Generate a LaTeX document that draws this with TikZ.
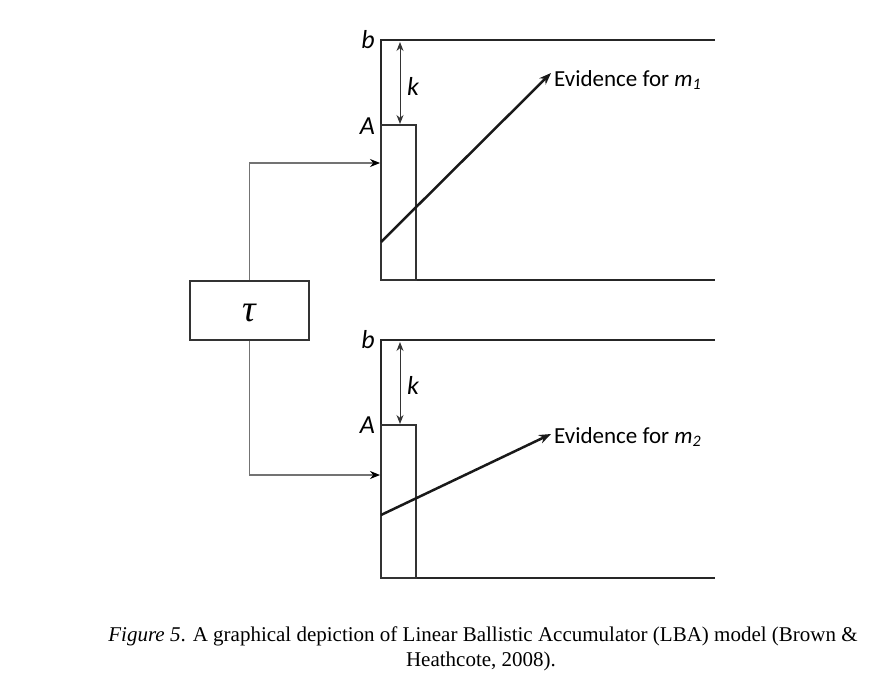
\documentclass[tikz,border=0pt]{standalone}
\usepackage{fontspec}
\setmainfont{Liberation Serif}
\newfontfamily\calib{Carlito}
\usetikzlibrary{arrows.meta}
\begin{document}
\begin{tikzpicture}[x=1pt,y=-1pt,
  axis/.style={line width=2.8pt,black!85},
  abox/.style={line width=1.6pt,black!80},
  karrow/.style={line width=1pt,black!80,{Stealth[length=9pt,width=7pt]}-{Stealth[length=9pt,width=7pt]}},
  evid/.style={line width=2.5pt,black!90,-{Stealth[length=12pt,width=9pt]}},
  inarrow/.style={line width=1.1pt,black!55,-{Stealth[length=10pt,width=8pt,black]}},
  taubox/.style={draw,line width=1.6pt,black!80,minimum width=119pt,minimum height=59pt,inner sep=0pt},
  taulab/.style={font=\fontsize{38}{38}\selectfont\itshape,inner sep=0pt},
  lab/.style={font=\calib\itshape\fontsize{26}{26}\selectfont,inner sep=0pt},
  evlab/.style={font=\calib\fontsize{23}{23}\selectfont,anchor=west,inner sep=0pt},
  captext/.style={font=\fontsize{21}{22}\selectfont,inner sep=0pt}
]
\useasboundingbox (0,0) rectangle (885,690);

% tau box
\node[taubox] (tau) at (249.5,310.5) {};
\node[taulab] (tautext) at (249.5,313) {τ};

% ---- top accumulator
\coordinate (t1b) at (381,40);
\coordinate (t1be) at (715,40);
\coordinate (t1o) at (381,280);
\coordinate (t1oe) at (715,280);
\draw[axis] (t1be) -- (t1b) -- (t1o) -- (t1oe);
\draw[abox] (381,125) rectangle (416,280);
\coordinate (k1a) at (400,42);
\coordinate (k1b) at (400,124);
\draw[karrow] (k1a) -- (k1b);
\node[lab] (k1) at (413,86) {k};
\node[lab,anchor=east] (A1) at (375,126) {A};
\node[lab,anchor=east] (b1) at (375,40) {b};
\coordinate (s1) at (381,242);
\coordinate (s1e) at (551,73);
\draw[evid] (s1) -- (s1e);
\node[evlab] (ev1) at (554,80) {Evidence for \textit{m}\raisebox{-0.3ex}{\fontsize{16}{16}\selectfont\textit{1}}};
\coordinate (in1) at (380,163);
\draw[inarrow] (tau.north) |- (in1);

% ---- bottom accumulator
\coordinate (t2b) at (381,340);
\coordinate (t2be) at (715,340);
\coordinate (t2o) at (381,578);
\coordinate (t2oe) at (715,578);
\draw[axis] (t2be) -- (t2b) -- (t2o) -- (t2oe);
\draw[abox] (381,425) rectangle (416,578);
\coordinate (k2a) at (400,342);
\coordinate (k2b) at (400,424);
\draw[karrow] (k2a) -- (k2b);
\node[lab] (k2) at (413,385) {k};
\node[lab,anchor=east] (A2) at (375,425) {A};
\node[lab,anchor=east] (b2) at (375,340) {b};
\coordinate (s2) at (381,515);
\coordinate (s2e) at (551,434);
\draw[evid] (s2) -- (s2e);
\node[evlab] (ev2) at (554,437) {Evidence for \textit{m}\raisebox{-0.3ex}{\fontsize{16}{16}\selectfont\textit{2}}};
\coordinate (in2) at (380,475);
\draw[inarrow] (tau.south) |- (in2);

% caption
\node[captext] (c1) at (483,636) {\textit{Figure 5}. A graphical depiction of Linear Ballistic Accumulator (LBA) model (Brown \&};
\node[captext] (c2) at (481,661) {Heathcote, 2008).};
\end{tikzpicture}
\end{document}
